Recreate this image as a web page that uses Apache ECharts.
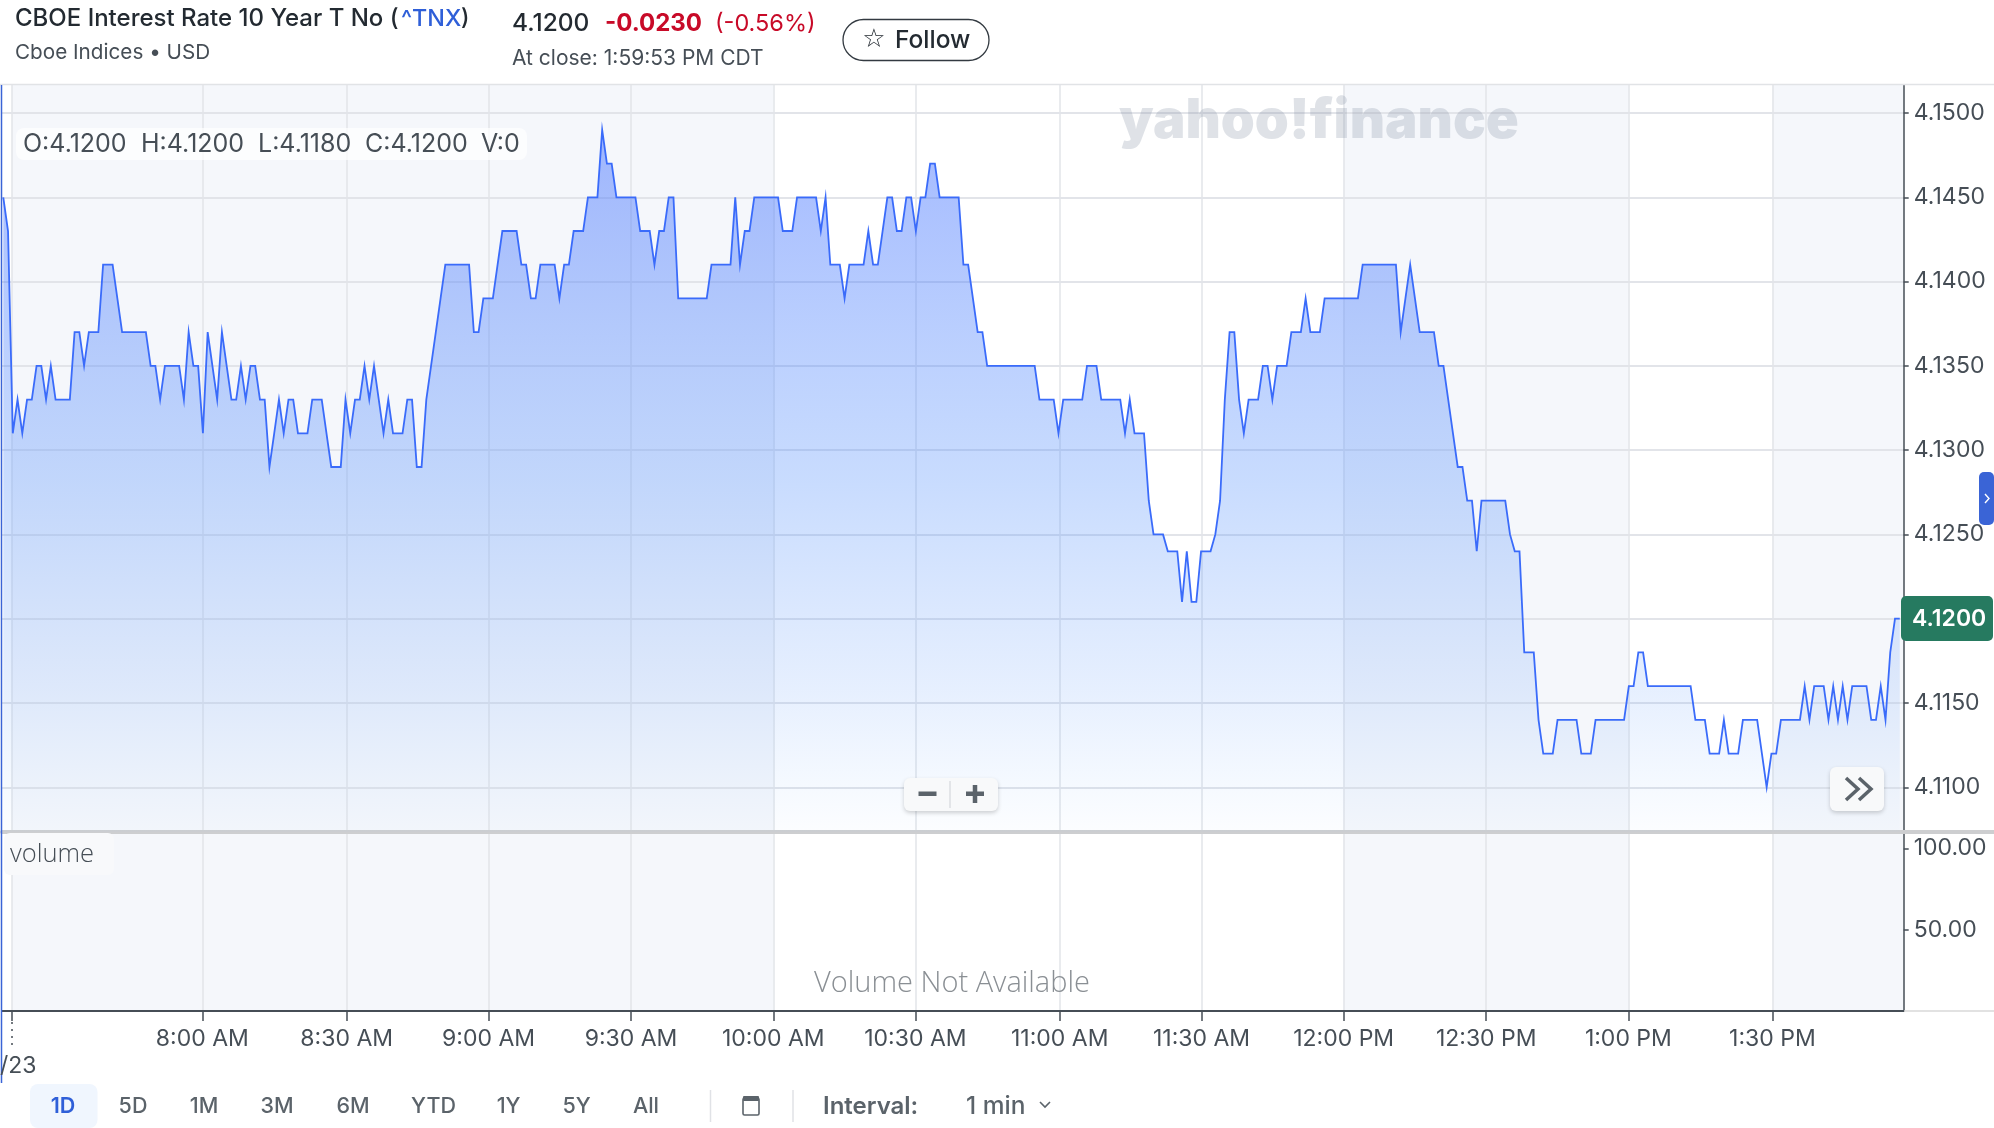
<!DOCTYPE html>
<html><head><meta charset="utf-8"><title>CBOE Interest Rate 10 Year T No</title>
<style>html,body{margin:0;padding:0;background:#fff}#c{width:1994px;height:1128px}</style>
<script src="https://cdn.jsdelivr.net/npm/echarts@6/dist/echarts.min.js"></script></head>
<body><div id="c"></div>
<script>
const closeValues = [
4.145,4.143,4.131,4.133,4.131,4.133,4.133,4.135,4.135,4.133,4.135,4.133,4.133,4.133,4.133,4.137,4.137,4.135,4.137,4.137,
4.137,4.141,4.141,4.141,4.139,4.137,4.137,4.137,4.137,4.137,4.137,4.135,4.135,4.133,4.135,4.135,4.135,4.135,4.133,4.137,
4.135,4.135,4.131,4.137,4.135,4.133,4.137,4.135,4.133,4.133,4.135,4.133,4.135,4.135,4.133,4.133,4.129,4.131,4.133,4.131,
4.133,4.133,4.131,4.131,4.131,4.133,4.133,4.133,4.131,4.129,4.129,4.129,4.133,4.131,4.133,4.133,4.135,4.133,4.135,4.133,
4.131,4.133,4.131,4.131,4.131,4.133,4.133,4.129,4.129,4.133,4.135,4.137,4.139,4.141,4.141,4.141,4.141,4.141,4.141,4.137,
4.137,4.139,4.139,4.139,4.141,4.143,4.143,4.143,4.143,
4.141,4.141,4.139,4.139,4.141,4.141,4.141,4.141,4.139,4.141,4.141,4.143,4.143,4.143,4.145,4.145,4.145,4.149,4.147,4.147,
4.145,4.145,4.145,4.145,4.145,4.143,4.143,4.143,4.141,4.143,4.143,4.145,4.145,4.139,4.139,4.139,4.139,4.139,4.139,4.139,
4.141,4.141,4.141,4.141,4.141,4.145,4.141,4.143,4.143,4.145,4.145,4.145,4.145,4.145,4.145,4.143,4.143,4.143,4.145,4.145,
4.145,4.145,4.145,4.143,4.145,4.141,4.141,4.141,4.139,4.141,4.141,4.141,4.141,4.143,4.141,4.141,4.143,4.145,4.145,4.143,
4.143,4.145,4.145,4.143,4.145,4.145,4.147,4.147,4.145,4.145,4.145,4.145,4.145,4.141,4.141,4.139,4.137,4.137,4.135,
4.135,4.135,4.135,4.135,4.135,4.135,4.135,4.135,4.135,4.135,
4.133,4.133,4.133,4.133,4.131,4.133,4.133,4.133,4.133,4.133,4.135,4.135,4.135,4.133,4.133,4.133,4.133,4.133,4.131,4.133,
4.131,4.131,4.131,4.127,4.125,4.125,4.125,4.124,4.124,4.124,4.121,4.124,4.121,4.121,4.124,4.124,4.124,4.125,4.127,4.133,
4.137,4.137,4.133,4.131,4.133,4.133,4.133,4.135,4.135,4.133,4.135,4.135,4.135,4.137,4.137,4.137,4.139,4.137,4.137,4.137,
4.139,4.139,4.139,4.139,4.139,4.139,4.139,4.139,4.141,4.141,4.141,4.141,4.141,4.141,4.141,4.141,4.137,4.139,4.141,4.139,
4.137,4.137,4.137,4.137,4.135,4.135,4.133,4.131,4.129,4.129,4.127,4.127,4.124,4.127,4.127,4.127,4.127,4.127,4.127,4.125,
4.124,4.124,
4.118,4.118,4.118,4.114,4.112,4.112,4.112,4.114,4.114,4.114,4.114,4.114,4.112,4.112,4.112,4.114,4.114,4.114,4.114,4.114,
4.114,4.114,4.116,4.116,4.118,4.118,4.116,4.116,4.116,4.116,4.116,4.116,4.116,4.116,4.116,4.116,4.114,4.114,4.114,4.112,
4.112,4.112,4.114,4.112,4.112,4.112,4.114,4.114,4.114,4.114,4.112,4.110,4.112,4.112,4.114,4.114,4.114,4.114,4.114,4.116,
4.114,4.116,4.116,4.116,4.114,4.116,4.114,4.116,4.114,4.116,4.116,4.116,4.116,4.114,4.114,4.116,4.114,4.118,4.120,4.120
];
const timeTickPositions = [1.83,41.87,72.25,102.1,132.07,162,191.9,222.26,252.1,282,312,341.9,372.2];
const timeTickLabels = ['','8:00 AM','8:30 AM','9:00 AM','9:30 AM','10:00 AM','10:30 AM','11:00 AM','11:30 AM','12:00 PM','12:30 PM','1:00 PM','1:30 PM'];
const priceTicks = [4.11,4.115,4.12,4.125,4.13,4.135,4.14,4.145,4.15];
const volumeTicks = [50,100];
const shadedBands = [[1.83,162],[282,341.9],[372.2,399.83]];
const rangeButtons = [['1D',63],['5D',133],['1M',204],['3M',277],['6M',353],['YTD',433.5],['1Y',508.6],['5Y',576.6],['All',646]];
const ohlc = [['O:4.1200',23],['H:4.1200',141],['L:4.1180',258],['C:4.1200',365],['V:0',481]];

const INK='#464e56', GRID='#e2e4e9', FF='Inter, "Noto Sans", sans-serif';
const xMin=-0.27, xMax=399.83;
const chart = echarts.init(document.getElementById('c'));
const T=(text,x,y,size,fill,weight,align,family,extra)=>Object.assign({type:'text',z:100,style:{text,x,y:y+1.5,fill:fill||INK,
  font:`${weight||400} ${size}px ${family||FF}`,textAlign:align||'left',textVerticalAlign:'middle'}},extra||{});
const L=(x1,y1,x2,y2,color,w,z,dash)=>({type:'line',z:z||90,shape:{x1,y1,x2,y2},style:{stroke:color,lineWidth:w||1,lineDash:dash}});
const R=(x,y,w,h,fill,r,z,extra)=>({type:'rect',z:z||95,shape:{x,y,width:w,height:h,r:r||0},style:Object.assign({fill},extra||{})});
const P=(points,color,w,z)=>({type:'polyline',z:z||101,shape:{points},style:{stroke:color,lineWidth:w,fill:null}});
const shadow={shadowBlur:4,shadowOffsetY:2,shadowColor:'rgba(0,0,0,.18)'};
const graphicEls=[
  L(0,84.5,1994,84.5,'#e1e3e6',1.5),
  L(1904,832,1994,832,'#cdced0',4),
  L(1904,1011,1994,1011,'#d9d9d9',1.5),
  L(1.5,85,1.5,1083,'#3a64d6',1.5),
  L(12,1022,12,1046,INK,1.5,90,[2,5]),
  T('CBOE Interest Rate 10 Year T No (',15,17,24,'#232a31',500),
  T('^TNX',401,17,23.3,'#2f5fd8',500),
  T(')',461,17,23,'#232a31',500),
  T('Cboe Indices • USD',15,51,20.7,INK,400),
  T('4.1200',512,22,24.5,'#232a31',500),
  T('-0.0230',605,22,24,'#c80a28',700),
  T('(-0.56%)',715,22,23.5,'#c80a28',400),
  T('At close: 1:59:53 PM CDT',512,57,21,INK,400),
  R(843,19.5,146,41,'#fff',20.5,95,{stroke:'#333a41',lineWidth:1.3}),
  T('☆',874,39,26,'#232a31',400,'center','"DejaVu Sans"'),
  T('Follow',895,39,24.5,'#232a31',500),
  T('yahoo!finance',1119,120,54.5,'rgba(120,134,156,.24)',900,'left',FF,{z:1}),
  R(16,128,511,32,'rgba(255,255,255,.72)',8,50),
  ...ohlc.map(o=>T(o[0],o[1],143,25,INK,400)),
  R(904,778,94,33,'#f8f9fa',6,95,shadow),
  L(950,781,950,808,'#dcdee2',1.5,96),
  R(918.5,791.5,18,4.5,'#5b636a',0,101),
  R(966,791.5,18,4.5,'#5b636a',0,101),
  R(972.75,785,4.5,18,'#5b636a',0,101),
  R(1830,767,54,44,'#f8f9fa',6,95,shadow),
  P([[1846,778],[1858,789],[1846,800]],'#5b636a',3.5),
  P([[1859,778],[1871,789],[1859,800]],'#5b636a',3.5),
  R(1979,472,15,53,'#3a64d6',5,95),
  P([[1985,494],[1989,498.5],[1985,503]],'#fff',1.4),
  R(1901,596,92,45,'#267a60',5,95),
  T('4.1200',1912,617.5,23,'#fff',600),
  R(4,833,110,42,'#f8f9fb',6,95),
  T('volume',10,853,25.5,INK,300,'left','"Open Sans"'),
  T('Volume Not Available',814,982,29,'#8a8f94',300,'left','"Open Sans"'),
  T('/23',0,1065,23,INK,400),
  R(30,1084,67.5,44,'#f0f6fe',8,90),
  ...rangeButtons.map((b,i)=>T(b[0],b[1],1105,21.5,i?'#5b636a':'#2f5fd8',i?500:600,'center')),
  L(710.5,1090,710.5,1122,'#e0e2e6',1.5),
  L(793,1090,793,1122,'#e0e2e6',1.5),
  R(743,1098,16,17,'#fff',1.5,95,{stroke:'#5b636a',lineWidth:1.6}),
  R(743,1096,16,5,'#5b636a',1,96),
  T('Interval:',823,1105,24,'#5b636a',600),
  T('1 min',966,1105,24.5,'#5b636a',500),
  P([[1040,1102],[1045,1107],[1050,1102]],'#5b636a',1.6)
];
const areaColor=new echarts.graphic.LinearGradient(0,0,0,1,[
  {offset:0,color:'rgba(61,107,255,0.47)'},
  {offset:0.5,color:'rgba(85,145,252,0.32)'},
  {offset:0.8,color:'rgba(90,150,250,0.15)'},
  {offset:1,color:'rgba(100,170,255,0.02)'}]);
const bandArea=shadedBands.map(b=>[{xAxis:b[0]},{xAxis:b[1]}]);
const bandSeries=(i)=>({type:'line',xAxisIndex:i,yAxisIndex:i,data:[],z:-1,silent:true,symbol:'none',
  markArea:{silent:true,z:-1,itemStyle:{color:'#f5f7fb'},data:bandArea}});
chart.setOption({
  animation:false,backgroundColor:'#fff',
  grid:[{left:2,top:85,width:1901.7,height:747},{left:2,top:832,width:1901.7,height:179}],
  xAxis:[
    {type:'value',gridIndex:0,min:xMin,max:xMax,
     axisLine:{show:true,onZero:false,lineStyle:{color:'#cdced0',width:4}},
     axisTick:{show:false,customValues:timeTickPositions},axisLabel:{show:false},
     splitLine:{show:true,lineStyle:{color:GRID,width:1.5}}},
    {type:'value',gridIndex:1,min:xMin,max:xMax,
     axisLine:{show:true,onZero:false,lineStyle:{color:INK,width:2}},
     axisTick:{show:true,length:10,customValues:timeTickPositions,lineStyle:{color:INK,width:1.5}},
     axisLabel:{show:true,margin:17,fontSize:23,color:INK,fontFamily:FF,customValues:timeTickPositions.slice(1),
       formatter:v=>timeTickLabels[timeTickPositions.indexOf(v)]},
     splitLine:{show:true,lineStyle:{color:GRID,width:1.5}}}
  ],
  yAxis:[
    {type:'value',gridIndex:0,position:'right',min:4.107346,max:4.151662,
     axisLine:{show:true,onZero:false,lineStyle:{color:INK,width:1.5}},
     axisTick:{show:true,length:5,customValues:priceTicks,lineStyle:{color:INK,width:1.5}},
     axisLabel:{show:true,margin:10,fontSize:23,color:INK,fontFamily:FF,customValues:priceTicks,formatter:v=>v.toFixed(4)},
     splitLine:{show:true,lineStyle:{color:GRID,width:2}}},
    {type:'value',gridIndex:1,position:'right',min:0,max:110,
     axisLine:{show:true,onZero:false,lineStyle:{color:INK,width:1.5}},
     axisTick:{show:true,length:5,customValues:volumeTicks,lineStyle:{color:INK,width:1.5}},
     axisLabel:{show:true,margin:10,fontSize:23,color:INK,fontFamily:FF,customValues:volumeTicks,formatter:v=>v.toFixed(2)},
     splitLine:{show:false}}
  ],
  series:[
    bandSeries(0),bandSeries(1),
    {name:'^TNX',type:'line',xAxisIndex:0,yAxisIndex:0,z:5,symbol:'none',showSymbol:false,smooth:false,
     data:closeValues.map((v,i)=>[i,v]),
     lineStyle:{color:'#3a6bfa',width:1.8,join:'miter',miterLimit:10},
     areaStyle:{color:areaColor,origin:'start',opacity:1}}
  ],
  graphic:{elements:graphicEls}
});
</script></body></html>
